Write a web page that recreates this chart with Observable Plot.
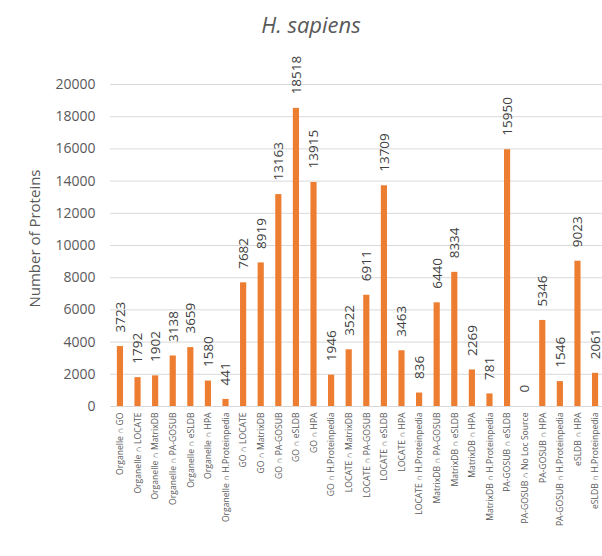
<!DOCTYPE html>
<html>
<head>
<meta charset="utf-8">
<script src="https://cdn.jsdelivr.net/npm/d3@7"></script>
<script src="https://cdn.jsdelivr.net/npm/@observablehq/plot@0.6"></script>
<style>
  body { margin: 0; background: #fff; font-family: "Open Sans", sans-serif; }
  #title { height: 45px; line-height: 45px; padding-top: 2px; box-sizing: border-box;
           text-align: center; padding-left: 20px; font-style: italic; font-size: 22px; color: #595959; }
</style>
</head>
<body>
<div id="title">H. sapiens</div>
<div id="chart"></div>
<script>
const categories = [
  "Organelle ∩ GO", "Organelle ∩ LOCATE", "Organelle ∩ MatrixDB", "Organelle ∩ PA-GOSUB",
  "Organelle ∩ eSLDB", "Organelle ∩ HPA", "Organelle ∩ H.Proteinpedia",
  "GO ∩ LOCATE", "GO ∩ MatrixDB", "GO ∩ PA-GOSUB", "GO ∩ eSLDB", "GO ∩ HPA", "GO ∩ H.Proteinpedia",
  "LOCATE ∩ MatrixDB", "LOCATE ∩ PA-GOSUB", "LOCATE ∩ eSLDB", "LOCATE ∩ HPA", "LOCATE ∩ H.Proteinpedia",
  "MatrixDB ∩ PA-GOSUB", "MatrixDB ∩ eSLDB", "MatrixDB ∩ HPA", "MatrixDB ∩ H.Proteinpedia",
  "PA-GOSUB ∩ eSLDB", "PA-GOSUB ∩ No Loc Source", "PA-GOSUB ∩ HPA", "PA-GOSUB ∩ H.Proteinpedia",
  "eSLDB ∩ HPA", "eSLDB ∩ H.Proteinpedia"
];
const values = [
  3723, 1792, 1902, 3138, 3659, 1580, 441,
  7682, 8919, 13163, 18518, 13915, 1946,
  3522, 6911, 13709, 3463, 836,
  6440, 8334, 2269, 781,
  15950, 0, 5346, 1546,
  9023, 2061
];
const yTicks = [0, 2000, 4000, 6000, 8000, 10000, 12000, 14000, 16000, 18000, 20000];
const yLabel = "Number of Proteins";

const data = categories.map((c, i) => ({category: c, value: values[i]}));

const chart = Plot.plot({
  width: 602,
  height: 511,
  marginTop: 39,
  marginBottom: 150,
  marginLeft: 110,
  marginRight: -3,
  style: {fontFamily: "Open Sans, sans-serif", color: "#595959", background: "#fff"},
  x: {domain: categories, paddingInner: 0.65, paddingOuter: 0.39, round: false, label: null},
  y: {domain: [0, 20000], label: null},
  marks: [
    Plot.ruleY(yTicks, {stroke: "#d9d9d9", strokeWidth: 1}),
    Plot.axisY({ticks: yTicks, tickSize: 0, tickPadding: 15, fontSize: 14, tickFormat: d => String(d), label: null}),
    Plot.axisX({tickSize: 0, tickPadding: 6, tickRotate: -90, fontSize: 8.6, label: null}),
    Plot.barY(data, {x: "category", y: "value", fill: "#ED7D31"}),
    Plot.text(data, {x: "category", y: "value", text: d => String(d.value), rotate: -90,
      textAnchor: "start", dy: -14, fontSize: 13.5, fill: "#404040"}),
    Plot.text([yLabel], {frameAnchor: "left", textAnchor: "middle", rotate: -90, dx: -75, dy: -7, fontSize: 15, fill: "#595959"})
  ]
});
document.getElementById("chart").appendChild(chart);
</script>
</body>
</html>
